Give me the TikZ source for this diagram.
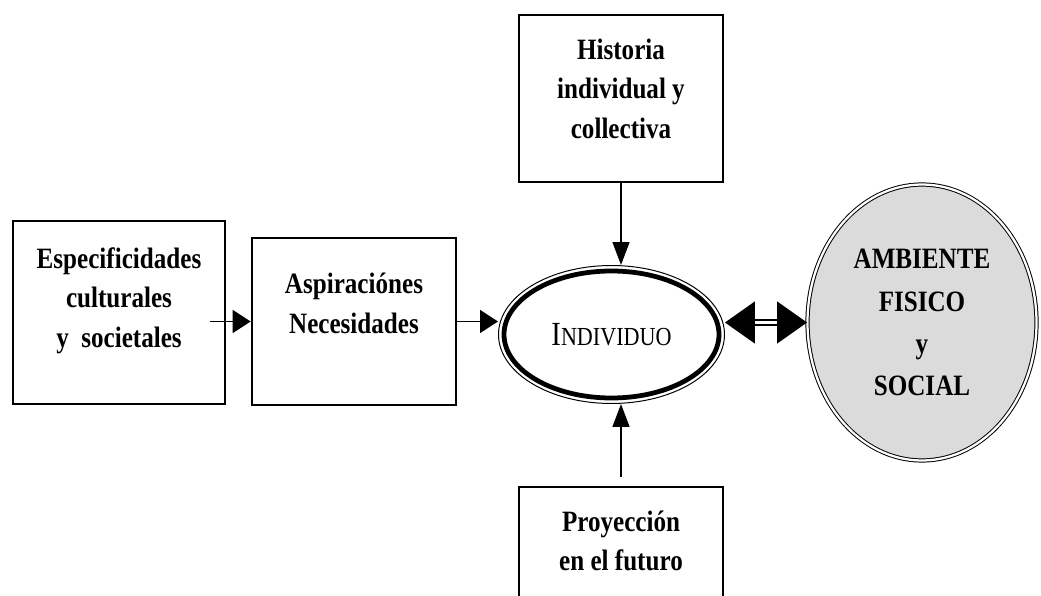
\documentclass[tikz,border=0pt]{standalone}
\usepackage{fontspec}
\setmainfont{Liberation Serif}[FakeStretch=0.85]
\usetikzlibrary{arrows.meta,shapes.geometric}

\begin{document}
\begin{tikzpicture}[box/.style={draw, line width=1.9pt, inner sep=0pt}, txt/.style={align=center},
    harr/.style={line width=1pt, -{Triangle[length=0.45cm,width=0.575cm]}},
    varr/.style={line width=1pt, -{Triangle[length=0.575cm,width=0.425cm]}},
    dbl/.style={double, line width=1.1pt, double distance=2.6pt},
    font=\fontsize{21}{28}\selectfont\bfseries]
    \clip (0,0) rectangle (26.025,-14.9);

    \node[box, minimum width=5.3cm, minimum height=4.575cm, label={[txt,yshift=0.3cm]center:Especificidades\\culturales\\y\ \ societales}] (esp) at (2.975,-7.8125) {};
    \node[box, minimum width=5.1cm, minimum height=4.175cm, label={[txt,yshift=0.45cm]center:Aspiraciónes\\Necesidades}] (asp) at (8.85,-8.0375) {};
    \node[box, minimum width=5.1cm, minimum height=4.175cm, label={[txt,yshift=0.24cm]center:Historia\\individual y\\collectiva}] (hist) at (15.525,-2.4625) {};
    \node[box, minimum width=5.1cm, minimum height=3.35cm, label={[txt,yshift=0.325cm]center:Proyección\\en el futuro}] (proy) at (15.525,-13.85) {};
    \node[draw, ellipse, line width=0.7pt, inner sep=0pt, minimum width=5.65cm, minimum height=3.45cm] (indiv) at (15.2875,-8.3625) {\mdseries\fontsize{24}{24}\selectfont I\fontsize{18.5}{18.5}\selectfont NDIVIDUO};
    \node[draw, ellipse, double, line width=0.7pt, double distance=1.6pt, fill=black!14, inner sep=0pt, minimum width=5.725cm, minimum height=6.9cm, txt, font=\fontsize{21}{30}\selectfont\bfseries] (amb) at (23.05,-8.0625) {AMBIENTE\\FISICO\\y\\SOCIAL};
    \draw[line width=3.4pt] (indiv.center) ellipse [x radius=2.6875cm, y radius=1.5875cm];

    \coordinate (espout) at ([xshift=-0.4cm]esp.east |- asp.west);
    \coordinate (proyout) at ([yshift=0.225cm]proy.north);

    \draw[harr] (espout) -- (asp.west);
    \draw[harr] (asp.east) -- (asp.east -| indiv.west);
    \draw[varr] (hist.south) -- (hist.south |- indiv.north);
    \draw[varr] (proyout) -- (proyout |- indiv.south);
    \draw[dbl, {Triangle[length=0.75cm,width=1.05cm]}-{Triangle[length=0.75cm,width=1.05cm]}] (indiv.east |- amb.west) -- (amb.west);
\end{tikzpicture}
\end{document}
